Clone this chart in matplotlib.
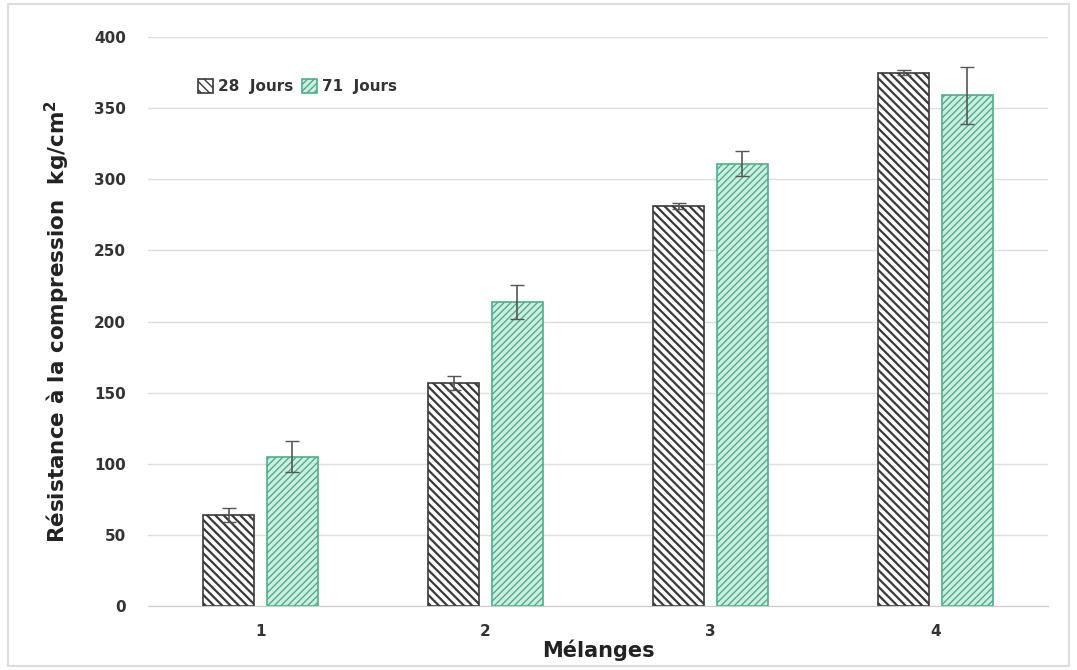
import matplotlib
matplotlib.use("Agg")
import matplotlib.pyplot as plt
import numpy as np

# Data
melanges = ["1", "2", "3", "4"]
jours_28 = [64, 157, 281, 375]
err_28 = [5, 5, 2, 2]
jours_71 = [105, 214, 311, 359]
err_71 = [11, 12, 9, 20]

fig = plt.figure(figsize=(10.77, 6.7), dpi=100)
ax = fig.add_axes([148 / 1077, 1 - 606 / 670, (1048 - 148) / 1077, (606 - 37) / 670])

x = np.arange(len(melanges))
w = 0.23
off = 0.142

with plt.rc_context({"hatch.linewidth": 1.6}):
    b1 = ax.bar(x - off, jours_28, w, color="white", edgecolor="#3a3a3a",
                hatch="\\\\\\\\", linewidth=1.2, label="28  Jours", zorder=2)
with plt.rc_context({"hatch.linewidth": 1.0}):
    b2 = ax.bar(x + off, jours_71, w, color="#cdeee2", edgecolor="#4fae8a",
                hatch="/////", linewidth=1.2, label="71  Jours", zorder=2)

ax.errorbar(x - off, jours_28, yerr=err_28, fmt="none", ecolor="#555555",
            elinewidth=1.2, capsize=5, zorder=3)
ax.errorbar(x + off, jours_71, yerr=err_71, fmt="none", ecolor="#555555",
            elinewidth=1.2, capsize=5, zorder=3)

ax.set_xlim(-0.5, 3.5)
ax.set_ylim(0, 400)
ax.set_yticks(range(0, 401, 50))
ax.set_xticks(x)
ax.set_xticklabels(melanges)
ax.grid(axis="y", color="#dddddd", linewidth=1, zorder=0)
for s in ["top", "right", "left"]:
    ax.spines[s].set_visible(False)
ax.spines["bottom"].set_color("#cccccc")
ax.tick_params(axis="y", length=0, labelsize=11, labelcolor="#333333", pad=16)
ax.tick_params(axis="x", length=0, labelsize=11, labelcolor="#333333", pad=13)
for lab in ax.get_xticklabels() + ax.get_yticklabels():
    lab.set_fontweight("bold")

ax.set_xlabel("Mélanges", fontsize=15, fontweight="bold", color="#222222")
ax.xaxis.set_label_coords(0.5, -0.058)
ax.set_ylabel("Résistance à la compression  kg/cm$^\\mathbf{2}$", fontsize=15.5,
              fontweight="bold", color="#222222", labelpad=16)

ax.legend(loc="upper left", bbox_to_anchor=(0.04, 0.95), frameon=False,
          ncol=2, prop={"weight": "bold", "size": 11},
          handlelength=1.0, handleheight=1.0, columnspacing=0.6, handletextpad=0.3,
          labelcolor="#333333")

# light frame around the whole picture
fig.patches.append(plt.Rectangle((8 / 1077, 4 / 670), 1 - 16 / 1077, 1 - 8 / 670,
                                 transform=fig.transFigure, fill=False,
                                 edgecolor="#dddddd", linewidth=1.5))

fig.savefig("out.png", dpi=100)
